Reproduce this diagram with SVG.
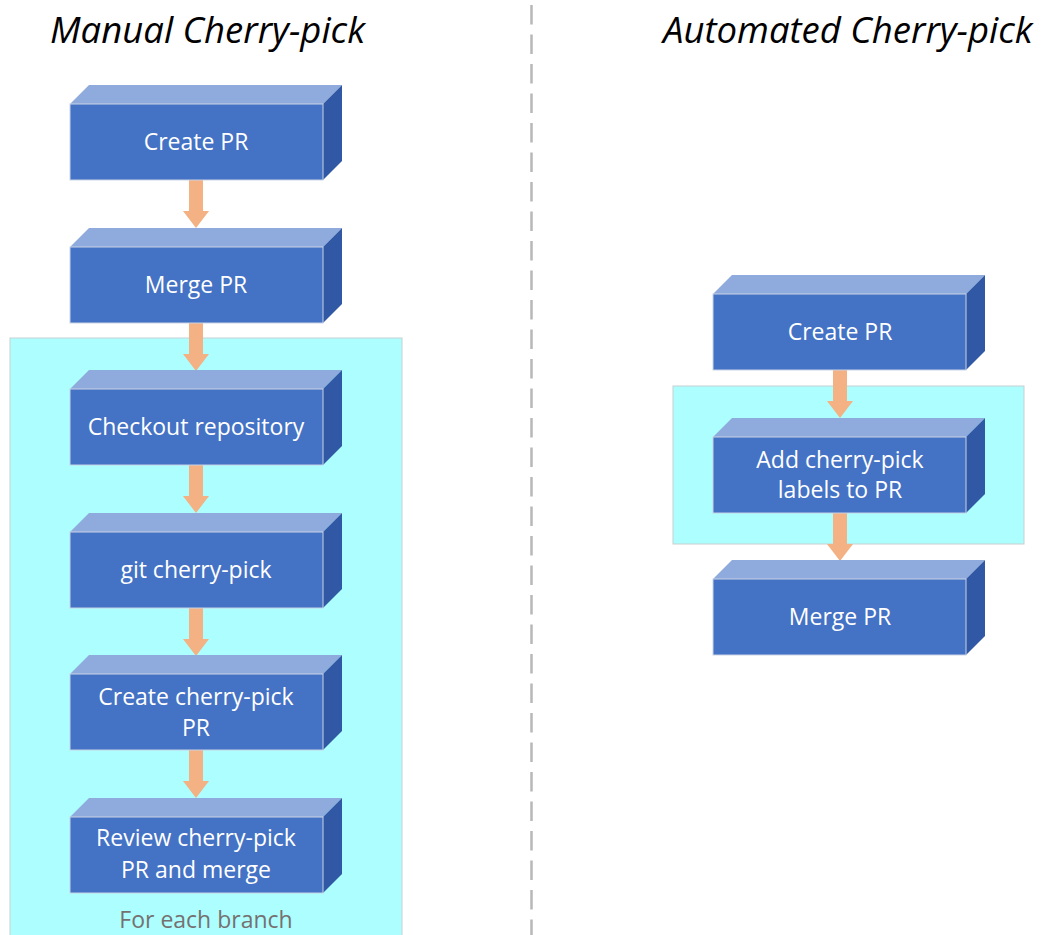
<svg xmlns="http://www.w3.org/2000/svg" width="1041" height="935" viewBox="0 0 1041 935">
  <style>
    .title { font-family: "Open Sans", "Liberation Sans", sans-serif; font-style: italic; font-size: 36.5px; fill: #000; }
    .label { font-family: "Open Sans", "Liberation Sans", sans-serif; font-size: 23px; fill: #ffffff; text-anchor: middle; }
    .note { font-family: "Open Sans", "Liberation Sans", sans-serif; font-size: 23px; fill: #767171; text-anchor: middle; }
    .front { fill: #4472c4; stroke: #c9d3e6; stroke-width: 1; }
    .top { fill: #8faadc; }
    .side { fill: #3158a4; }
    .group { fill: #adfefe; stroke: #c8d0d0; stroke-width: 1; }
    .arrow { fill: #f4b183; }
    .divider { stroke: #b8b8b8; stroke-width: 2.5; stroke-dasharray: 19.5 10; fill: none; }
  </style>
  <defs>
    <!-- 3D block: front face 253x76, depth 19 -->
    <g id="block">
      <polygon class="top" points="0,0 19,-19 272,-19 253,0"/>
      <polygon class="side" points="253,0 272,-19 272,57 253,76"/>
      <rect class="front" x="0" y="0" width="253" height="76"/>
    </g>
    <!-- block arrow, 48 long, tip at (0,48) -->
    <path id="down" class="arrow" d="M-7,0 L7,0 L7,31 L13,31 L0,48 L-13,31 L-7,31 Z"/>
  </defs>

  <rect width="1041" height="935" fill="#ffffff"/>

  <!-- column divider -->
  <line class="divider" x1="531.5" y1="5" x2="531.5" y2="935"/>

  <!-- titles -->
  <text class="title" x="50" y="43">Manual Cherry-pick</text>
  <text class="title" x="663" y="43">Automated Cherry-pick</text>

  <!-- repeat containers -->
  <g id="manual-loop">
    <rect class="group" x="10" y="338" width="392" height="600"/>
    <text class="note" x="206" y="928">For each branch</text>
  </g>
  <rect id="auto-loop" class="group" x="673" y="386" width="351" height="158"/>

  <!-- connectors -->
  <g id="connectors">
    <use href="#down" x="196" y="180"/>
    <use href="#down" x="196" y="323"/>
    <use href="#down" x="196" y="465"/>
    <use href="#down" x="196" y="608"/>
    <use href="#down" x="196" y="750"/>
    <use href="#down" x="840" y="370"/>
    <use href="#down" x="840" y="513"/>
  </g>

  <!-- manual flow -->
  <g id="m-create-pr">
    <use href="#block" x="70" y="104"/>
    <text class="label" x="196" y="150">Create PR</text>
  </g>
  <g id="m-merge-pr">
    <use href="#block" x="70" y="247"/>
    <text class="label" x="196" y="293">Merge PR</text>
  </g>
  <g id="m-checkout">
    <use href="#block" x="70" y="389"/>
    <text class="label" x="196" y="435">Checkout repository</text>
  </g>
  <g id="m-cherry-pick">
    <use href="#block" x="70" y="532"/>
    <text class="label" x="196" y="578">git cherry-pick</text>
  </g>
  <g id="m-create-cp-pr">
    <use href="#block" x="70" y="674"/>
    <text class="label" x="196" y="705">Create cherry-pick</text>
    <text class="label" x="196" y="736">PR</text>
  </g>
  <g id="m-review-merge">
    <use href="#block" x="70" y="817"/>
    <text class="label" x="196" y="846">Review cherry-pick</text>
    <text class="label" x="196" y="878">PR and merge</text>
  </g>

  <!-- automated flow -->
  <g id="a-create-pr">
    <use href="#block" x="713" y="294"/>
    <text class="label" x="840" y="340">Create PR</text>
  </g>
  <g id="a-add-labels">
    <use href="#block" x="713" y="437"/>
    <text class="label" x="840" y="468">Add cherry-pick</text>
    <text class="label" x="840" y="498">labels to PR</text>
  </g>
  <g id="a-merge-pr">
    <use href="#block" x="713" y="579"/>
    <text class="label" x="840" y="625">Merge PR</text>
  </g>
</svg>
